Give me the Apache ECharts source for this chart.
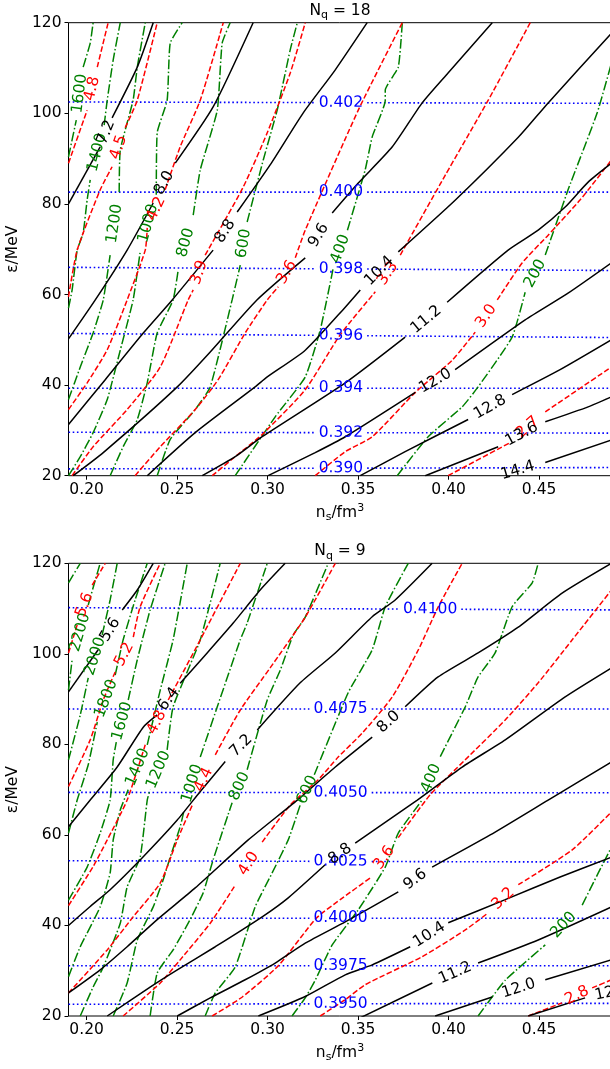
<!DOCTYPE html>
<html>
<head>
<meta charset="utf-8">
<script src="https://cdn.jsdelivr.net/npm/echarts@6/dist/echarts.min.js"></script>
<style>
html, body { margin: 0; padding: 0; background: #fff; }
#main { width: 610px; height: 1069px; }
</style>
</head>
<body>
<div id="main"></div>
<script>
// axis ticks
var xTicks = [0.20, 0.25, 0.30, 0.35, 0.40, 0.45];
var yTicks = [20, 40, 60, 80, 100, 120];
var panelTitles = ['18', '9'];

// ---------- N_q = 18 ----------
// null marks where the contour label sits
var topBlackLevels = ['7.2', '8.0', '8.8', '9.6', '10.4', '11.2', '12.0', '12.8', '13.6', '14.4'];
var topBlack = [
  [[0.19,80.0],[0.2075,92.6],null,[0.2141,99.0],[0.228,110.2],[0.2368,120]],
  [[0.19,50.2],[0.2048,58.8],[0.2224,69.8],[0.2368,80.2],null,[0.249,89.0],[0.2699,101.4],[0.292,120]],
  [[0.19,31.3],[0.2103,41.2],[0.2313,51.5],[0.2473,58.8],[0.2699,69.8],null,[0.2832,78.2],[0.3014,88.6],[0.3197,100.1],[0.3374,109.6],[0.355,120]],
  [[0.1926,20],[0.2092,25.1],[0.2501,39.6],[0.2683,47.3],[0.2941,58.8],[0.3208,68.1],null,[0.3357,78.0],[0.3501,84.6],[0.3689,92.6],[0.3854,102.3],[0.3997,108.9],[0.4241,120]],
  [[0.2335,20],[0.26,29.5],[0.2931,39.6],[0.2998,41.8],[0.3208,47.7],[0.3429,57.2],[0.3512,61.0],null,[0.3722,69.4],[0.4036,80.8],[0.4385,94.7],[0.455,102.3],[0.49,117.7]],
  [[0.2639,20],[0.2821,24.2],[0.297,28.6],[0.3429,40.5],[0.376,50.6],null,[0.3992,58.3],[0.4329,69.8],[0.4495,74.2],[0.4644,79.3],[0.4771,84.8],[0.49,89.0]],
  [[0.3003,20],[0.3263,25.1],[0.3429,28.6],[0.3816,38.4],null,[0.4036,43.4],[0.4423,54.4],[0.466,60.3],[0.49,67.0]],
  [[0.3512,20],[0.376,25.3],[0.4108,32.4],null,[0.4351,37.9],[0.4616,43.4],[0.49,50.0]],
  [[0.3871,20],[0.4274,26.4],null,[0.4534,31.9],[0.4771,35.2],[0.49,37.4]],
  [[0.423,19.4],null,[0.4534,22.9],[0.49,27.9]]
];
var topRedLevels = ['4.8', '4.5', '4.2', '3.9', '3.6', '3.3', '3.0', '2.7'];
var topRed = [
  [[0.19,89.0],[0.2003,100.7],null,[0.2059,110.2],[0.2119,120]],
  [[0.19,59.5],[0.1948,69.8],[0.2075,83.1],[0.2141,88.2],null,[0.2213,96.8],[0.228,102.9],[0.239,120]],
  [[0.19,34.6],[0.2003,40.5],[0.2114,47.8],[0.2224,58.8],[0.2324,69.8],[0.2335,74.7],null,[0.2434,83.1],[0.2517,92.6],[0.2628,102.9],[0.2755,120]],
  [[0.192,20],[0.2036,26.4],[0.2224,34.6],[0.2407,44.0],[0.2561,58.8],[0.2589,61.0],null,[0.2655,68.7],[0.2865,83.7],[0.2998,95.7],[0.3125,108.9],[0.3208,120]],
  [[0.2268,20],[0.2407,26.4],[0.26,34.6],[0.2727,41.2],[0.2876,51.5],[0.2998,58.8],[0.3059,61.7],null,[0.3153,68.1],[0.3208,74.2],[0.3501,100.7],[0.3744,120]],
  [[0.2694,20],[0.2821,24.2],[0.297,29.1],[0.3208,39.0],[0.3401,51.1],[0.3595,60.6],null,[0.3733,68.7],[0.3981,86.3],[0.4219,102.9],[0.4451,120]],
  [[0.3263,20],[0.3429,25.3],[0.3578,28.6],[0.3816,38.4],[0.402,45.5],[0.4147,51.7],null,[0.4269,58.8],[0.4407,67.0],[0.455,73.1],[0.4727,80.9],[0.49,89.7]],
  [[0.3997,20],[0.434,27.3],null,[0.4534,34.1],[0.49,44.0]]
];
var topGreenLevels = ['1600', '1400', '1200', '1000', '800', '600', '400', '200'];
var topGreen = [
  [[0.19,90.4],[0.1943,98.5],null,[0.1981,110.2],[0.202,115.5],[0.2036,120]],
  [[0.19,57.0],[0.192,61.0],[0.1948,69.8],[0.1981,73.6],[0.2003,80.9],[0.202,85.3],null,[0.2097,97.4],[0.2114,102.9],[0.2147,111.8],[0.2186,120]],
  [[0.19,36.8],[0.1965,44.0],[0.2036,51.5],[0.2092,58.8],[0.213,68.7],null,[0.218,82.6],[0.2186,91.9],[0.2257,102.9],[0.228,110.2],[0.2324,120]],
  [[0.19,20],[0.1965,24.2],[0.2036,29.5],[0.2114,36.8],[0.2186,47.7],[0.2257,58.8],[0.2296,69.4],null,[0.2385,82.0],[0.239,95.7],[0.2445,102.9],[0.2462,115.5],[0.2528,120]],
  [[0.213,20],[0.2202,26.4],[0.228,32.4],[0.2335,40.5],[0.239,51.5],[0.2478,58.8],[0.2506,65.4],null,[0.2589,77.5],[0.2628,87.5],[0.2722,100.7],[0.2749,115.5],[0.2793,120]],
  [[0.239,20],[0.2462,28.0],[0.26,34.6],[0.2683,39.6],[0.2804,58.8],[0.2849,66.5],null,[0.2887,76.0],[0.2976,89.7],[0.3053,100.7],[0.3125,114.0],[0.3164,120]],
  [[0.2821,20],[0.3042,33.0],[0.3208,41.8],[0.3291,52.2],[0.3363,65.9],null,[0.3441,74.2],[0.3539,87.5],[0.3578,94.8],[0.365,102.9],[0.365,105.1],[0.3722,110.2],[0.3744,120]],
  [[0.3716,20],[0.3887,28.6],[0.4075,35.2],[0.4163,39.6],[0.4351,50.6],[0.4423,60.5],null,[0.4534,68.7],[0.466,83.1],[0.4821,100.1],[0.49,111.1]]
];
var topBlueLevels = ['0.402', '0.400', '0.398', '0.396', '0.394', '0.392', '0.390'];
var topBlueLeft = [102.5, 82.6, 66.0, 51.4, 39.3, 29.6, 21.5];
var topBlueRight = [102.2, 82.6, 65.3, 50.5, 39.3, 29.4, 21.8];
var topBlueLabelAt = [0.3405, 0.3405, 0.3405, 0.3405, 0.3405, 0.3405, 0.3405];

// ---------- N_q = 9 ----------
var botBlackLevels = ['5.6', '6.4', '7.2', '8.0', '8.8', '9.6', '10.4', '11.2', '12.0', '12.8'];
var botBlack = [
  [[0.19,91.6],[0.2064,100.9],null,[0.2197,109.7],[0.228,114.1],[0.2368,120]],
  [[0.19,61.8],[0.202,67.7],[0.2169,75.0],[0.2313,83.8],[0.239,86.5],null,[0.2517,93.5],[0.2666,100.2],[0.281,106.8],[0.2959,114.1],[0.3097,120]],
  [[0.19,40.0],[0.202,44.2],[0.213,47.9],[0.2313,55.2],[0.2501,63.3],[0.2628,69.6],[0.2766,76.2],null,[0.2943,83.2],[0.318,93.6],[0.3374,100.2],[0.3578,108.2],[0.3705,111.9],[0.3909,120]],
  [[0.19,25.1],[0.2075,30.2],[0.2224,35.3],[0.239,41.3],[0.26,48.3],[0.2893,58.9],[0.3164,67.7],[0.3374,75.0],[0.3578,81.6],null,[0.376,88.3],[0.3942,94.9],[0.4163,100.2],[0.4385,105.9],[0.4627,113.4],[0.49,120]],
  [[0.2114,20],[0.2351,26.4],[0.2501,30.2],[0.2711,35.3],[0.297,41.9],[0.3114,46.1],[0.3318,53.4],null,[0.3484,58.2],[0.3827,67.7],[0.4075,75.0],[0.4313,81.0],[0.4644,90.5],[0.49,96.9]],
  [[0.2501,20],[0.2683,24.0],[0.2876,28.0],[0.3042,31.7],[0.3208,36.1],[0.3429,40.8],[0.3722,47.4],null,[0.3909,52.9],[0.423,60.0],[0.455,67.7],[0.49,76.1]],
  [[0.2949,20],[0.3208,24.3],[0.3429,29.1],[0.3578,31.3],[0.3788,35.3],null,[0.3998,40.6],[0.4313,45.7],[0.4616,50.7],[0.49,55.1]],
  [[0.3512,19.6],[0.391,27.3],null,[0.4163,31.7],[0.4495,36.8],[0.49,44.1]],
  [[0.3926,20],[0.4241,24.2],null,[0.4534,28.0],[0.49,32.4]],
  [[0.444,20],[0.4754,24.0],null,[0.505,26.5],[0.52,27.5]]
];
var botRedLevels = ['5.6', '5.2', '4.8', '4.4', '4.0', '3.6', '3.2', '2.8'];
var botRed = [
  [[0.19,100.2],[0.1948,106.4],null,[0.2031,115.2],[0.2103,120]],
  [[0.19,70.7],[0.202,81.0],[0.2092,89.8],[0.2158,96.0],null,[0.2258,103.7],[0.2296,110.4],[0.2407,120]],
  [[0.19,44.4],[0.2036,53.0],[0.2114,58.9],[0.2224,67.7],[0.2324,79.9],null,[0.2451,89.8],[0.2628,103.1],[0.2849,120]],
  [[0.19,25.1],[0.2114,34.6],[0.2257,41.9],[0.2407,49.4],[0.2501,58.9],[0.2584,66.6],null,[0.2711,77.7],[0.2849,87.6],[0.3014,96.9],[0.3208,108.1],[0.3374,120]],
  [[0.2202,20],[0.2407,27.3],[0.2517,32.4],[0.2683,40.5],[0.2821,48.9],null,[0.297,58.4],[0.3125,66.6],[0.328,72.2],[0.339,77.2],[0.3523,82.5],[0.3689,90.5],[0.3833,100.9],[0.3943,110.4],[0.4075,120]],
  [[0.2694,20],[0.286,24.2],[0.3059,31.1],[0.3269,41.6],[0.3401,45.7],[0.3567,50.5],null,[0.3722,59.4],[0.3899,68.9],[0.4092,76.6],[0.4313,85.4],[0.4495,93.6],[0.4683,103.1],[0.49,114.1]],
  [[0.3291,20],[0.3429,23.6],[0.3539,26.9],[0.3854,33.1],[0.4092,39.0],[0.4219,42.8],null,[0.4385,49.0],[0.4683,56.7],[0.49,65.1]],
  [[0.444,20],[0.4627,22.9],null,[0.4793,26.2],[0.49,28.0]]
];
var botGreenLevels = ['', '2200', '2000', '1800', '1600', '1400', '1200', '1000', '800', '600', '400', '200'];
var botGreen = [
  [[0.19,115.7],[0.1965,120]],
  [[0.19,92.0],[0.192,98.7],null,[0.2009,110.8],[0.2048,116.3],[0.2075,120]],
  [[0.19,76.6],[0.1965,86.5],[0.2009,94.7],null,[0.2086,104.2],[0.213,111.9],[0.2169,120]],
  [[0.19,60.4],[0.1948,67.7],[0.2009,75.5],[0.2059,84.9],null,[0.2158,95.3],[0.2202,103.1],[0.2268,111.9],[0.2335,120]],
  [[0.19,45.6],[0.2003,52.9],[0.2075,60.4],[0.213,67.7],[0.2147,76.6],[0.2164,80.5],null,[0.223,89.8],[0.228,98.7],[0.2351,109.7],[0.2434,120]],
  [[0.19,28.7],[0.1965,35.3],[0.2075,44.1],[0.213,51.6],[0.2147,58.9],[0.2186,65.5],[0.223,70.0],null,[0.2335,79.9],[0.2407,92.0],[0.2478,103.1],[0.2556,120]],
  [[0.1965,20],[0.2036,26.4],[0.2092,30.8],[0.2186,40.5],[0.2224,48.5],[0.2296,55.1],[0.2335,67.7],[0.2351,70.0],null,[0.2445,78.8],[0.2478,88.3],[0.2628,103.1],[0.2738,120]],
  [[0.2147,20],[0.2224,27.3],[0.228,36.8],[0.2368,44.1],[0.2423,50.1],[0.2462,55.1],[0.2517,61.8],[0.2539,65.5],null,[0.2628,77.2],[0.2722,88.3],[0.2849,103.1],[0.2887,106.8],[0.2998,120]],
  [[0.2351,20],[0.239,29.5],[0.2478,34.6],[0.2572,41.3],[0.2644,47.2],[0.2699,54.5],[0.2782,64.5],[0.2804,67.1],null,[0.2887,74.4],[0.2998,89.8],[0.307,96.4],[0.3142,104.2],[0.3208,108.1],[0.3335,120]],
  [[0.2655,20],[0.2711,25.1],[0.2821,30.8],[0.2931,44.1],[0.3025,51.6],[0.3114,58.9],[0.318,66.6],null,[0.3258,73.3],[0.3445,91.4],[0.3578,100.9],[0.365,110.4],[0.3777,120]],
  [[0.3135,20],[0.3208,24.0],[0.3263,27.9],[0.3357,35.7],[0.35,43.4],[0.365,52.9],[0.3722,60.4],[0.3854,67.7],null,[0.3954,77.3],[0.4092,88.3],[0.4163,94.9],[0.4257,100.2],[0.4351,110.4],[0.4462,115.7],[0.4495,120]],
  [[0.4163,20],[0.4313,27.9],[0.4534,35.7],null,[0.4738,44.5],[0.4827,51.6],[0.49,57.3]]
];
var botBlueLevels = ['0.4100', '0.4075', '0.4050', '0.4025', '0.4000', '0.3975', '0.3950'];
var botBlueLeft = [110.2, 87.8, 69.4, 54.3, 41.6, 31.1, 22.6];
var botBlueRight = [109.7, 87.8, 69.3, 54.0, 41.6, 31.1, 22.8];
var botBlueLabelAt = [0.3898, 0.3403, 0.3403, 0.3403, 0.3403, 0.3403, 0.3403];

var FONT = 'DejaVu Sans';
var FS = 15.5;
var styles = {
  black: {color: '#000000', width: 1.5, type: 'solid'},
  red:   {color: '#ff0000', width: 1.5, type: [5.5, 2.4]},
  green: {color: '#008000', width: 1.5, type: [9.6, 2.4, 1.5, 2.4]},
  blue:  {color: '#0000ff', width: 1.6, type: [1.6, 2.6]}
};

var panels = [
  {black: topBlack, blackLv: topBlackLevels, red: topRed, redLv: topRedLevels, green: topGreen, greenLv: topGreenLevels,
   blueLv: topBlueLevels, blueL: topBlueLeft, blueR: topBlueRight, blueAt: topBlueLabelAt},
  {black: botBlack, blackLv: botBlackLevels, red: botRed, redLv: botRedLevels, green: botGreen, greenLv: botGreenLevels,
   blueLv: botBlueLevels, blueL: botBlueLeft, blueR: botBlueRight, blueAt: botBlueLabelAt}
];

// blue lines are nearly flat: build them from the left/right levels with a gap for the label
function bluePoints(pan, i) {
  var yl = pan.blueL[i], yr = pan.blueR[i];
  var half = pan.blueLv[i].length > 5 ? 0.0172 : 0.0145;
  var at = pan.blueAt[i];
  var yAt = function(x) { return yl + (yr - yl) * (x - 0.19) / 0.3; };
  return [[0.19, yl], [at - half, yAt(at - half)], null, [at + half, yAt(at + half)], [0.49, yr]];
}

function splitSegs(pts) {
  var segs = [[]];
  pts.forEach(function(p) {
    if (p === null) segs.push([]);
    else segs[segs.length - 1].push(p);
  });
  return segs.filter(function(s) { return s.length > 1; });
}

var grids = [
  {left: 68.5, top: 22.7, width: 543, height: 453},
  {left: 68.5, top: 563.3, width: 543, height: 452.7}
];

var option = {
  animation: false,
  backgroundColor: '#fff',
  title: [],
  grid: [],
  xAxis: [],
  yAxis: [],
  series: []
};

grids.forEach(function(g, p) {
  option.grid.push({left: g.left, top: g.top, width: g.width, height: g.height, show: true,
    borderColor: '#000', borderWidth: 1, containLabel: false, outerBoundsMode: 'none'});
  option.title.push({
    text: '{a|N}{b|q}{a| = ' + panelTitles[p] + '}',
    left: 340, top: g.top - 22, textAlign: 'center', padding: 0,
    textStyle: {fontWeight: 'normal', rich: {
      a: {fontFamily: FONT, fontSize: FS, fontWeight: 'normal', color: '#000'},
      b: {fontFamily: FONT, fontSize: 11, fontWeight: 'normal', color: '#000', padding: [9, 0, 0, 0]}
    }}
  });
  option.xAxis.push({
    type: 'value', gridIndex: p, min: 0.19, max: 0.49,
    name: '{a|n}{b|s}{a|/fm}{c|3}', nameLocation: 'middle', nameGap: 27,
    nameTextStyle: {rich: {
      a: {fontFamily: FONT, fontSize: FS, color: '#000'},
      b: {fontFamily: FONT, fontSize: 11, color: '#000', padding: [9, 0, 0, 0]},
      c: {fontFamily: FONT, fontSize: 11, color: '#000', padding: [0, 0, 9, 0]}
    }},
    axisLine: {show: false},
    axisTick: {show: true, inside: false, length: 4, customValues: xTicks, lineStyle: {color: '#000', width: 1}},
    axisLabel: {customValues: xTicks, formatter: function(v) { return v.toFixed(2); },
      fontFamily: FONT, fontSize: FS, color: '#000', margin: 6},
    splitLine: {show: false}
  });
  option.yAxis.push({
    type: 'value', gridIndex: p, min: 20, max: 120, interval: 20,
    name: 'ε/MeV', nameLocation: 'middle', nameGap: 44,
    nameTextStyle: {fontFamily: FONT, fontSize: FS, color: '#000'},
    axisLine: {show: false},
    axisTick: {show: true, inside: false, length: 4, lineStyle: {color: '#000', width: 1}},
    axisLabel: {fontFamily: FONT, fontSize: FS, color: '#000', margin: 7},
    splitLine: {show: false}
  });
});

function addLines(p, list, style, z, smooth) {
  list.forEach(function(pts) {
    splitSegs(pts).forEach(function(seg) {
      option.series.push({
        type: 'line', xAxisIndex: p, yAxisIndex: p, data: seg, showSymbol: false, symbol: 'none',
        silent: true, clip: true, z: z, smooth: smooth, lineStyle: style
      });
    });
  });
}

panels.forEach(function(pan, p) {
  var blues = pan.blueLv.map(function(_, i) { return bluePoints(pan, i); });
  addLines(p, blues, styles.blue, 2, false);
  addLines(p, pan.green, styles.green, 3, 0.15);
  addLines(p, pan.red, styles.red, 4, 0.2);
  addLines(p, pan.black, styles.black, 5, 0.2);
});

var chart = echarts.init(document.getElementById('main'), null, {renderer: 'canvas'});
chart.setOption(option);

// contour labels: centred in the gap, turned along the line
function labelItems(p, list, levels) {
  var items = [];
  list.forEach(function(pts, k) {
    var i = pts.indexOf(null);
    if (i < 1 || !levels[k]) return;
    var a = pts[i - 1], b = pts[i + 1];
    var pa = chart.convertToPixel({gridIndex: p}, a);
    var pb = chart.convertToPixel({gridIndex: p}, b);
    var ang = Math.atan2(-(pb[1] - pa[1]), pb[0] - pa[0]) * 180 / Math.PI;
    if (ang > 90) ang -= 180;
    if (ang < -90) ang += 180;
    items.push({value: [(a[0] + b[0]) / 2, (a[1] + b[1]) / 2],
      label: {rotate: ang, formatter: levels[k]}});
  });
  return items;
}

function labelSeries(p, items, color) {
  return {
    type: 'scatter', xAxisIndex: p, yAxisIndex: p, data: items, symbolSize: 1, silent: true, clip: false,
    itemStyle: {color: 'transparent', opacity: 1}, z: 10,
    label: {show: true, position: 'inside', color: color, fontFamily: FONT, fontSize: FS, opacity: 1,
      textBorderWidth: 0, textBorderColor: 'transparent', fontWeight: 'normal'}
  };
}

var extra = [];
panels.forEach(function(pan, p) {
  var blues = pan.blueLv.map(function(_, i) { return bluePoints(pan, i); });
  extra.push(labelSeries(p, labelItems(p, blues, pan.blueLv), '#0000ff'));
  extra.push(labelSeries(p, labelItems(p, pan.green, pan.greenLv), '#008000'));
  extra.push(labelSeries(p, labelItems(p, pan.red, pan.redLv), '#ff0000'));
  extra.push(labelSeries(p, labelItems(p, pan.black, pan.blackLv), '#000000'));
});
chart.setOption({series: option.series.concat(extra)});
</script>
</body>
</html>
